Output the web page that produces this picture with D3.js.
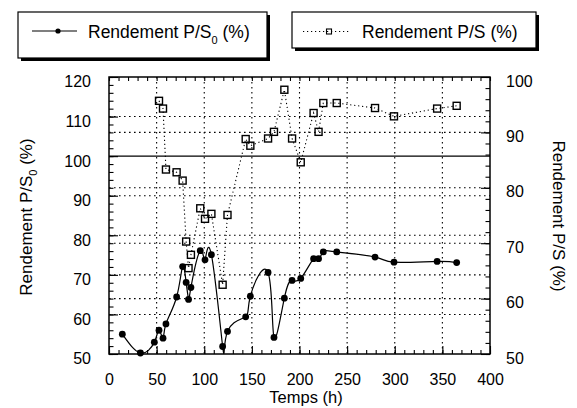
<!DOCTYPE html>
<html><head><meta charset="utf-8">
<script src="https://cdn.jsdelivr.net/npm/d3@7"></script>
<style>body{margin:0;background:#fff}svg text{font-family:"Liberation Sans",Arial,Helvetica,sans-serif;fill:#000}</style>
</head><body>
<svg id="c" width="577" height="408"></svg>
<script>
// ---- data ----
const times    = [14, 33, 47.6, 52.5, 56.7, 59.8, 71, 77.3, 81, 83.5, 86, 95.8, 100.8, 107.5, 119.3, 124.4, 143.5, 148.4, 167, 173.2, 184.1, 192.2, 201.3, 214.8, 220, 225, 239.1, 279.3, 299.2, 344.5, 365];
const yieldPS0 = [55.0, 50.25, 53.0, 56.0, 54.0, 57.6, 64.4, 72.1, 68.1, 63.8, 66.8, 76.1, 73.8, 75.1, 51.9, 55.7, 59.4, 64.6, 70.6, 54.2, 64.1, 68.6, 69.1, 74.1, 74.1, 75.8, 75.8, 74.5, 73.2, 73.4, 73.1];
const yieldPS  = [null, null, null, 95.7, 94.3, 83.3, 82.8, 81.3, 70.3, 65.5, 67.9, 76.3, 74.4, 75.3, 62.5, 75.1, 88.8, 87.6, 88.9, 90.1, 97.7, 88.9, 84.6, 93.5, 90.1, 95.3, 95.3, 94.4, 92.9, 94.3, 94.8];
const xTickLabels     = [0, 50, 100, 150, 200, 250, 300, 350, 400];
const leftTickLabels  = [50, 60, 70, 80, 90, 100, 110, 120];
const rightTickLabels = [50, 60, 70, 80, 90, 100];
const seriesNames = ["Rendement P/S", "Rendement P/S"];
const xTitle = "Temps (h)";

const svg = d3.select("#c");
const L = 109, R = 490, T = 77, B = 354;
const x  = d3.scaleLinear([0, 400], [L, R]);
const yL = d3.scaleLinear([50, 120], [B, T]);
const yR = d3.scaleLinear([50, 100], [B, T]);

svg.append("defs").append("clipPath").attr("id", "clip")
  .append("rect").attr("x", L).attr("y", T).attr("width", R - L).attr("height", B - T);

// ---- grid ----
const grid = svg.append("g").attr("stroke", "#000").attr("fill", "none");
const dotted = "1.6,3.4";
[60, 70, 80, 90, 110].forEach(v => grid.append("line").attr("x1", L).attr("x2", R)
  .attr("y1", yL(v)).attr("y2", yL(v)).attr("stroke-width", 1.1).attr("stroke-dasharray", dotted));
[60, 70, 80, 90].forEach(v => grid.append("line").attr("x1", L).attr("x2", R)
  .attr("y1", yR(v)).attr("y2", yR(v)).attr("stroke-width", 1.1).attr("stroke-dasharray", dotted));
xTickLabels.slice(1, -1).forEach(v => grid.append("line").attr("y1", T).attr("y2", B)
  .attr("x1", x(v)).attr("x2", x(v)).attr("stroke-width", 1.1).attr("stroke-dasharray", dotted));
grid.append("line").attr("x1", L).attr("x2", R).attr("y1", yL(100)).attr("y2", yL(100)).attr("stroke-width", 1.3);

// ---- axes (ticks inward) ----
function axisGroup(axis, tx, ty) {
  const g = svg.append("g").attr("transform", `translate(${tx},${ty})`).call(axis);
  g.select(".domain").remove();
  g.selectAll("line").attr("stroke", "#000").attr("stroke-width", 1.1);
  g.selectAll("text").style("font-size", "16px").attr("fill", "#000");
  return g;
}
axisGroup(d3.axisBottom(x).tickValues(d3.range(0, 401, 10)).tickSize(-4).tickFormat(""), 0, B);
axisGroup(d3.axisBottom(x).tickValues(xTickLabels).tickSize(-8).tickPadding(20).tickFormat(d3.format("d")), 0, B);
axisGroup(d3.axisTop(x).tickValues(d3.range(0, 401, 10)).tickSize(-4).tickFormat(""), 0, T);
axisGroup(d3.axisLeft(yL).tickValues(d3.range(50, 121, 2)).tickSize(-4.5).tickFormat(""), L, 0);
axisGroup(d3.axisLeft(yL).tickValues(leftTickLabels).tickSize(-9).tickPadding(18).tickFormat(d3.format("d")), L, 0)
  .selectAll("text").attr("dy", "0.62em");
axisGroup(d3.axisRight(yR).tickValues(d3.range(50, 101, 2)).tickSize(-4.5).tickFormat(""), R, 0);
axisGroup(d3.axisRight(yR).tickValues(rightTickLabels).tickSize(-9).tickPadding(16).tickFormat(d3.format("d")), R, 0)
  .selectAll("text").attr("dy", "0.57em");

// frame
svg.append("rect").attr("x", L).attr("y", T).attr("width", R - L).attr("height", B - T)
  .attr("fill", "none").attr("stroke", "#000").attr("stroke-width", 1.5);

// ---- series ----
const ps0Data = times.map((t, i) => ({t, v: yieldPS0[i]}));
const psData = times.map((t, i) => ({t, v: yieldPS[i]})).filter(d => d.v != null);
const plot = svg.append("g").attr("clip-path", "url(#clip)");
plot.append("path").datum(ps0Data)
  .attr("d", d3.line().x(d => x(d.t)).y(d => yL(d.v)).curve(d3.curveNatural))
  .attr("fill", "none").attr("stroke", "#000").attr("stroke-width", 1.2);
plot.append("path").datum(psData)
  .attr("d", d3.line().x(d => x(d.t)).y(d => yR(d.v)))
  .attr("fill", "none").attr("stroke", "#000").attr("stroke-width", 1.1).attr("stroke-dasharray", "1.2,2.8");

// markers
svg.append("g").selectAll("rect").data(psData).join("rect")
  .attr("x", d => x(d.t) - 3.5).attr("y", d => yR(d.v) - 3.5).attr("width", 7).attr("height", 7)
  .attr("fill", "none").attr("stroke", "#000").attr("stroke-width", 1.4);
svg.append("g").selectAll("circle").data(ps0Data).join("circle")
  .attr("cx", d => x(d.t)).attr("cy", d => yL(d.v)).attr("r", 3.4).attr("fill", "#000");

// ---- axis titles ----
svg.append("text").attr("x", 306).attr("y", 403).attr("text-anchor", "middle").style("font-size", "16.5px").text(xTitle);
const lt = svg.append("text").attr("transform", "translate(32,217) rotate(-90)").attr("text-anchor", "middle").style("font-size", "17px");
lt.append("tspan").text(seriesNames[0]);
lt.append("tspan").attr("dy", 5).style("font-size", "11px").text("0");
lt.append("tspan").attr("dy", -5).text(" (%)");
svg.append("text").attr("transform", "translate(553,216) rotate(90)").attr("text-anchor", "middle")
  .style("font-size", "17px").text(seriesNames[1] + " (%)");

// ---- legend ----
function box(bx, by, bw, bh) {
  svg.append("rect").attr("x", bx + 3).attr("y", by + 3).attr("width", bw).attr("height", bh).attr("fill", "#000");
  svg.append("rect").attr("x", bx).attr("y", by).attr("width", bw).attr("height", bh)
    .attr("fill", "#fff").attr("stroke", "#000").attr("stroke-width", 1.2);
}
box(18, 12, 249, 46);
svg.append("line").attr("x1", 32).attr("x2", 77).attr("y1", 31).attr("y2", 31).attr("stroke", "#000").attr("stroke-width", 1.2);
svg.append("circle").attr("cx", 58).attr("cy", 31).attr("r", 2.6).attr("fill", "#000");
const l1 = svg.append("text").attr("x", 88).attr("y", 37.5).style("font-size", "17.5px");
l1.append("tspan").text(seriesNames[0]);
l1.append("tspan").attr("dy", 6).style("font-size", "11px").text("0");
l1.append("tspan").attr("dy", -6).text(" (%)");

box(292, 12, 244, 36);
svg.append("line").attr("x1", 303).attr("x2", 350).attr("y1", 31.5).attr("y2", 31.5).attr("stroke", "#000")
  .attr("stroke-width", 1.1).attr("stroke-dasharray", "1.2,2.8");
svg.append("rect").attr("x", 326.5).attr("y", 29).attr("width", 5).attr("height", 5).attr("fill", "none").attr("stroke", "#000").attr("stroke-width", 1.1);
svg.append("text").attr("x", 362).attr("y", 37.5).style("font-size", "17.5px").text(seriesNames[1] + " (%)");
</script>
</body></html>
